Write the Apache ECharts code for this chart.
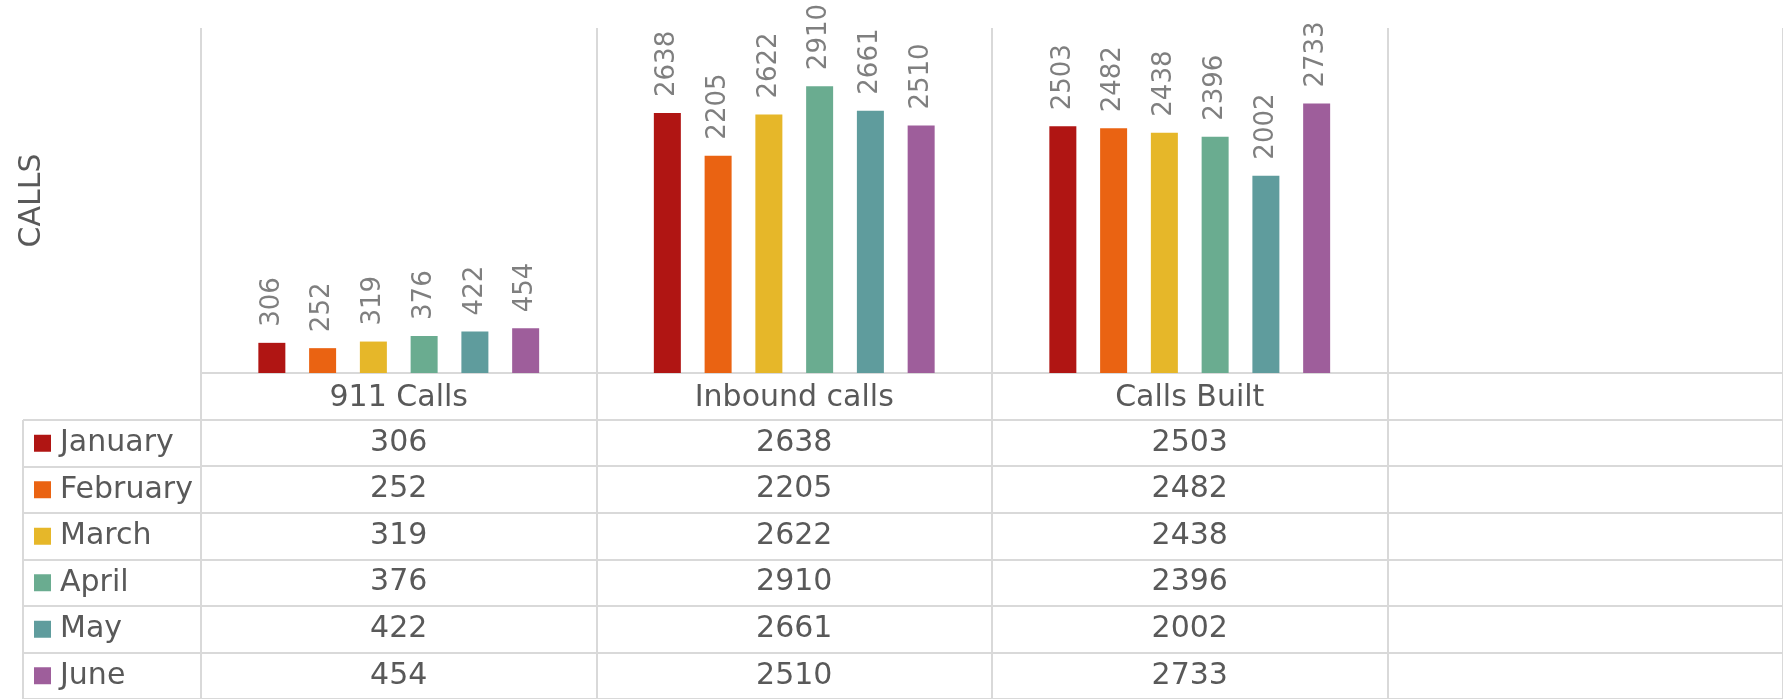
<!DOCTYPE html>
<html>
<head>
<meta charset="utf-8">
<title>Calls</title>
<script src="https://cdn.jsdelivr.net/npm/echarts@6/dist/echarts.min.js"></script>
<style>
  html, body { margin: 0; padding: 0; background: #fff; }
  #callsChart { width: 1783px; height: 699px; }
</style>
</head>
<body>
<div id="callsChart"></div>
<script>
// data
const categories = ["911 Calls", "Inbound calls", "Calls Built", ""];
const months = ["January", "February", "March", "April", "May", "June"];
const january = [306, 2638, 2503];
const february = [252, 2205, 2482];
const march = [319, 2622, 2438];
const april = [376, 2910, 2396];
const may = [422, 2661, 2002];
const june = [454, 2510, 2733];
const monthValues = [january, february, march, april, may, june];
const colors = ["#B01513", "#EA6312", "#E6B729", "#6AAC90", "#5F9C9D", "#9E5E9B"];

const FONT = "DejaVu Sans";
const TEXT = "#595959";
const LINE = "#D9D9D9";

const el = document.getElementById("callsChart");
const chart = echarts.init(el);

// table rows: empty header row (category names come from the bar x axis) + months
const tableRows = [""].concat(months);

const hiddenCat = (data, extra) => Object.assign({
  type: "category",
  data: data,
  axisLine: { show: false },
  axisTick: { show: false },
  axisLabel: { show: false },
  splitLine: { show: true, interval: 0, lineStyle: { color: LINE, width: 2 } },
}, extra || {});

// rich styles for the legend keys in the month column
const rich = { t: { fontFamily: FONT, fontSize: 30, color: TEXT, padding: [0, 0, 0, 9] } };
colors.forEach((c, i) => {
  rich["k" + i] = { backgroundColor: c, width: 17, height: 17 };
});

const barSeries = monthValues.map((vals, i) => ({
  name: months[i],
  type: "bar",
  xAxisIndex: 0,
  yAxisIndex: 0,
  data: vals,
  barWidth: 27,
  barGap: "88%",
  itemStyle: { color: colors[i] },
  label: {
    show: true,
    position: "top",
    distance: 16,
    rotate: 90,
    align: "left",
    verticalAlign: "middle",
    fontFamily: FONT,
    fontSize: 26,
    color: "#7F7F7F",
  },
  emphasis: { disabled: true },
  animation: false,
}));

const cellData = [];
monthValues.forEach((vals, m) => {
  vals.forEach((v, c) => {
    cellData.push([categories[c], months[m], v]);
  });
});

const options = {
  animation: false,
  grid: [
    { left: 201, top: 28, width: 1600, height: 345 },   // bars
    { left: 23, top: 420, width: 178, height: 282 },    // month column
    { left: 201, top: 373, width: 1600, height: 329 },  // value cells
  ],
  xAxis: [
    {
      type: "category",
      gridIndex: 0,
      data: categories,
      axisLine: { show: true, lineStyle: { color: LINE, width: 2 } },
      axisTick: { show: false },
      axisLabel: {
        interval: 0,
        margin: 25,
        verticalAlign: "middle",
        fontFamily: FONT,
        fontSize: 30,
        color: TEXT,
      },
      splitLine: { show: true, interval: 0, lineStyle: { color: LINE, width: 2 } },
    },
    hiddenCat([""], { gridIndex: 1 }),
    hiddenCat(categories, { gridIndex: 2 }),
  ],
  yAxis: [
    {
      type: "value",
      gridIndex: 0,
      min: 0,
      max: 3500,
      name: "CALLS",
      nameLocation: "middle",
      nameRotate: 90,
      nameGap: 154,
      nameTextStyle: { fontFamily: FONT, fontSize: 30, color: TEXT },
      axisLine: { show: false },
      axisTick: { show: false },
      axisLabel: { show: false },
      splitLine: { show: false },
    },
    hiddenCat(months, {
      gridIndex: 1,
      inverse: true,
      axisLabel: {
        show: true,
        inside: true,
        interval: 0,
        margin: 11,
        formatter: (value, idx) => "{k" + idx + "|}{t|" + value + "}",
        rich: rich,
      },
    }),
    hiddenCat(tableRows, { gridIndex: 2, inverse: true }),
  ],
  series: barSeries.concat([
    {
      type: "scatter",
      xAxisIndex: 2,
      yAxisIndex: 2,
      data: cellData,
      symbolSize: 1,
      itemStyle: { color: "transparent", opacity: 1 },
      label: {
        show: true,
        position: "inside",
        formatter: (p) => p.value[2],
        fontFamily: FONT,
        fontSize: 30,
        color: TEXT,
        opacity: 1,
      },
      emphasis: { disabled: true },
      silent: true,
    },
  ]),
};
chart.setOption(options);
</script>
</body>
</html>
